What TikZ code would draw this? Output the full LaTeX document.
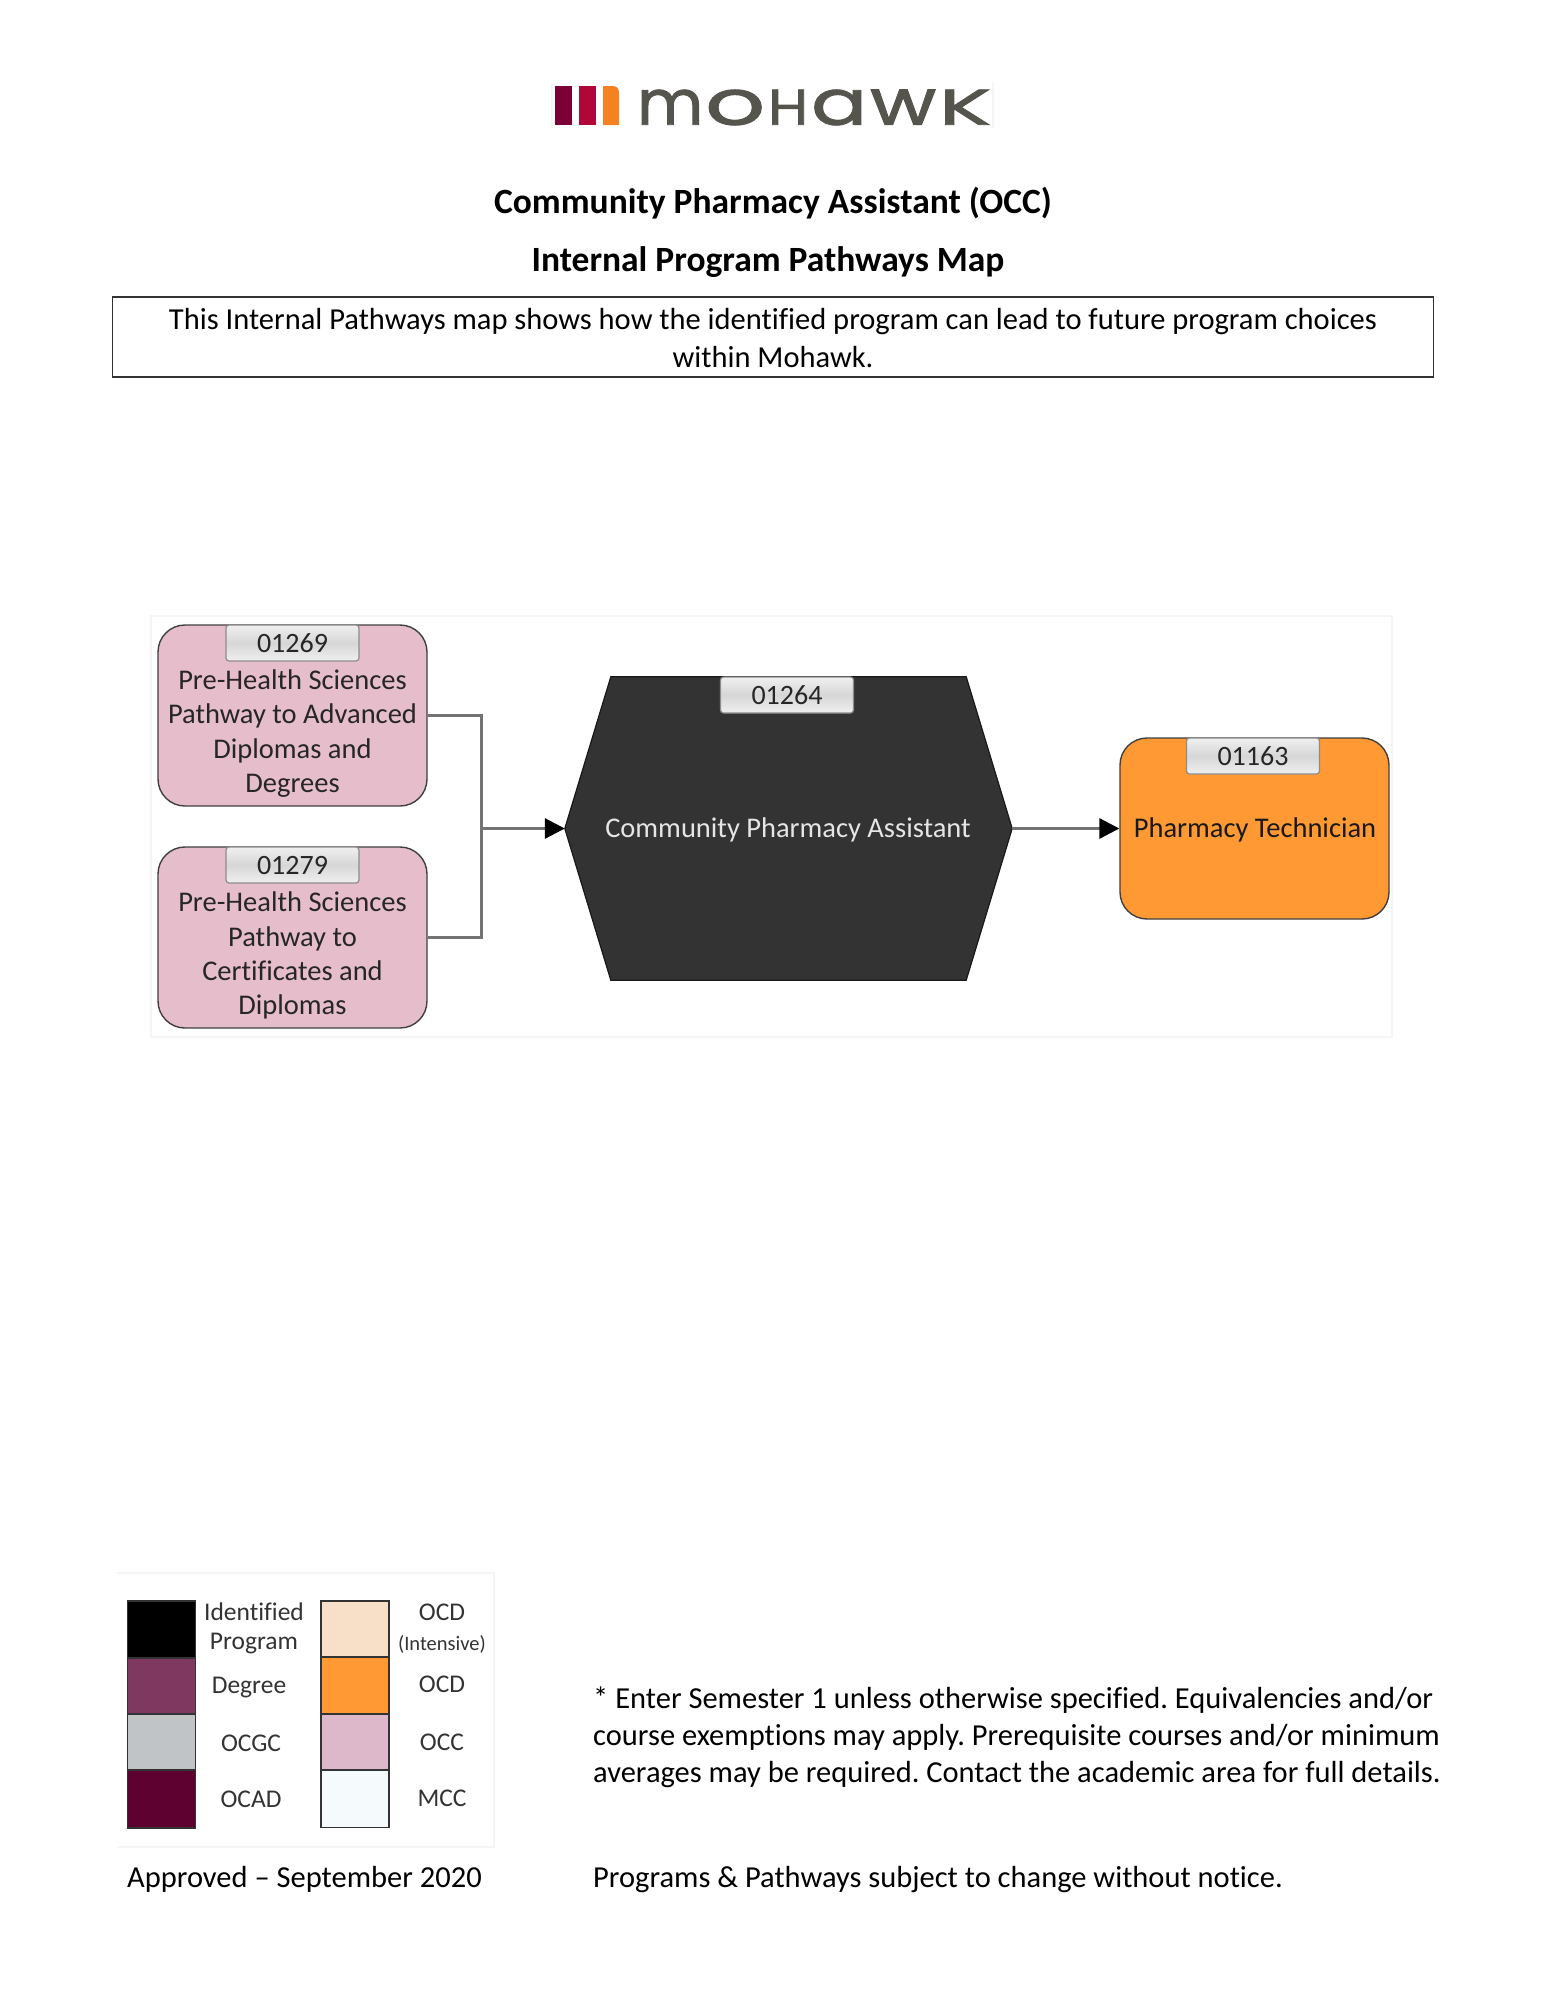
\documentclass[tikz,border=0pt]{standalone}
\usepackage{fontspec}
\usepackage{graphicx}
\setmainfont[Ligatures={TeX,NoCommon}]{Carlito}
\newfontfamily\logofont[FakeBold=1.5]{Poppins}
\usetikzlibrary{arrows.meta,calc}
\definecolor{pinkbox}{HTML}{E5BDCB}
\definecolor{orangebox}{HTML}{FF9933}
\definecolor{darkhex}{HTML}{333333}
\definecolor{logogrey}{HTML}{55554D}
\AtBeginDocument{\frenchspacing}
\tikzset{
  x=1pt,y=-1pt,
  progbox/.style={draw=black!75,line width=1.4pt,rounded corners=27pt,minimum width=269pt,minimum height=181pt,inner sep=0pt},
  tagbox/.style={draw=black!45,line width=1.2pt,rounded corners=3pt,minimum width=133pt,minimum height=36pt,inner sep=0pt,
    top color=gray!12,bottom color=gray!12,middle color=gray!32,font=\fontsize{28}{28}\selectfont,text=black!85},
  proglabel/.style={align=center,inner sep=0pt,font=\fontsize{28.5}{34.2}\selectfont,text=black!85},
  hexbody/.style={minimum width=447pt,minimum height=303pt,inner sep=0pt},
  hexlabel/.style={inner sep=0pt,font=\fontsize{28.5}{30}\selectfont,text=white!90!black},
  link/.style={draw=black!55,line width=3pt},
  linkarrow/.style={link,-{Triangle[length=20pt,width=20pt,color=black]}},
  swatch/.style={draw=black!80,line width=1.6pt,minimum width=68pt,inner sep=0pt},
  legendtext/.style={inner sep=0pt,font=\fontsize{25.5}{25.5}\selectfont,text=black!80},
  doctitle/.style={inner sep=0pt,font=\fontsize{35.5}{35.5}\selectfont\bfseries},
  bodyline/.style={inner sep=0pt,font=\fontsize{30.5}{30.5}\selectfont},
  bodyleft/.style={bodyline,anchor=west},
  faintframe/.style={draw=black!4,line width=1.2pt},
}
\begin{document}
\begin{tikzpicture}
\useasboundingbox[fill=white] (0,0) rectangle (1546,2000);

% logo
\draw[faintframe] (552,83) -- (552,128) (993,83) -- (993,128);
\fill[color={rgb,255:red,123;green,0;blue,54}] (555,86) rectangle (572,125);
\fill[color={rgb,255:red,176;green,6;blue,58}] (579,86) rectangle (596,125);
\fill[color={rgb,255:red,245;green,130;blue,32}] (603,86) -- (613,86) .. controls (617,86) and (619,89) .. (619,93) -- (619,125) -- (603,125) -- cycle;
\node[anchor=west,inner sep=0pt,text=logogrey,font=\logofont\fontsize{50}{50}\selectfont] (logotext) at (637,107.5)
  {\resizebox{66pt}{35pt}{m}\hspace{2pt}\resizebox{60pt}{35pt}{o}\hspace{3pt}\resizebox{40pt}{35pt}{H}\hspace{3pt}\resizebox{56pt}{35pt}{a}\hspace{3pt}\resizebox{66pt}{35pt}{w}\hspace{3pt}\resizebox{52pt}{35pt}{K}};

% heading
\node[doctitle] (title1) at (773,203.5) {Community Pharmacy Assistant (OCC)};
\node[doctitle] (title2) at (768,262) {Internal Program Pathways Map};
\node[draw=black!80,line width=1.1pt,minimum width=1321pt,minimum height=80pt,inner sep=0pt] (intro) at (773,337) {};
\node[bodyline] (intro1) at (773,321.5) {This Internal Pathways map shows how the identified program can lead to future program choices};
\node[bodyline] (intro2) at (773,357) {within Mohawk.};

% diagram frame
\draw[faintframe] (151,616) rectangle (1392,1037);

% programme boxes
\node[progbox,fill=pinkbox] (p1) at (292.5,715.5) {};
\node[tagbox] (t1) at (292.5,643) {01269};
\node[proglabel] (l1) at (292.5,733.5) {Pre-Health Sciences\\Pathway to Advanced\\Diplomas and\\Degrees};

\node[progbox,fill=pinkbox] (p2) at (292.5,937.5) {};
\node[tagbox] (t2) at (292.5,865) {01279};
\node[proglabel] (l2) at (292.5,955.5) {Pre-Health Sciences\\Pathway to\\Certificates and\\Diplomas};

% hexagon
\node[hexbody] (hex) at (788.5,828.5) {};
\fill[darkhex,draw=black!90,line width=1.2pt] (hex.west) -- ($(hex.north west)+(46,0)$) -- ($(hex.north east)+(-46,0)$) -- (hex.east) -- ($(hex.south east)+(-46,0)$) -- ($(hex.south west)+(46,0)$) -- cycle;
\node[hexlabel] (hextext) at (788,829.5) {Community Pharmacy Assistant};
\node[tagbox] (t3) at (787,695) {01264};

% orange box
\node[progbox,fill=orangebox] (p3) at (1254.5,828.5) {};
\node[tagbox] (t4) at (1253,756) {01163};
\node[proglabel,text=black!90] (l3) at (1255,829.5) {Pharmacy Technician};

% connectors
\coordinate (join) at (481,828.5);
\draw[link] (p1.east) -| (join);
\draw[link] (p2.east) -| (join);
\draw[linkarrow] (join) -- (hex.west);
\draw[linkarrow] (hex.east) -- (p3.west);

% legend
\draw[faintframe] (117,1573) -- (494,1573) -- (494,1847) -- (117,1847);
\node[swatch,fill=black,minimum height=57pt] (s1) at (161.5,1629.5) {};
\node[swatch,fill={rgb,255:red,127;green,56;blue,96},minimum height=56pt] (s2) at (161.5,1686) {};
\node[swatch,fill={rgb,255:red,192;green,196;blue,198},minimum height=56pt] (s3) at (161.5,1742) {};
\node[swatch,fill={rgb,255:red,94;green,0;blue,48},minimum height=58pt] (s4) at (161.5,1799) {};
\node[swatch,fill={rgb,255:red,248;green,223;blue,200},minimum height=56pt] (s5) at (355,1629) {};
\node[swatch,fill=orangebox,minimum height=57pt] (s6) at (355,1685.5) {};
\node[swatch,fill={rgb,255:red,220;green,184;blue,202},minimum height=56pt] (s7) at (355,1742) {};
\node[swatch,fill={rgb,255:red,245;green,250;blue,253},minimum height=57pt] (s8) at (355,1799) {};

\node[legendtext] (k1) at (254,1612) {Identified};
\node[legendtext] (k2) at (254,1643) {Program};
\node[legendtext] (k3) at (249,1687) {Degree};
\node[legendtext] (k4) at (251,1743) {OCGC};
\node[legendtext] (k5) at (251,1799) {OCAD};
\node[legendtext] (k6) at (442,1612) {OCD};
\node[legendtext,font=\fontsize{20.5}{20.5}\selectfont] (k7) at (442,1644) {(Intensive)};
\node[legendtext] (k8) at (442,1684) {OCD};
\node[legendtext] (k9) at (442,1742) {OCC};
\node[legendtext] (k10) at (442,1798) {MCC};

% footer text
\node[bodyleft] (f1) at (593,1700.5) {* Enter Semester 1 unless otherwise specified. Equivalencies and/or};
\node[bodyleft] (f2) at (593,1737.5) {course exemptions may apply. Prerequisite courses and/or minimum};
\node[bodyleft] (f3) at (593,1774.5) {averages may be required. Contact the academic area for full details.};
\node[bodyleft] (f4) at (127,1879.5) {Approved -- September 2020};
\node[bodyleft] (f5) at (593,1879.5) {Programs \& Pathways subject to change without notice.};
\end{tikzpicture}
\end{document}
